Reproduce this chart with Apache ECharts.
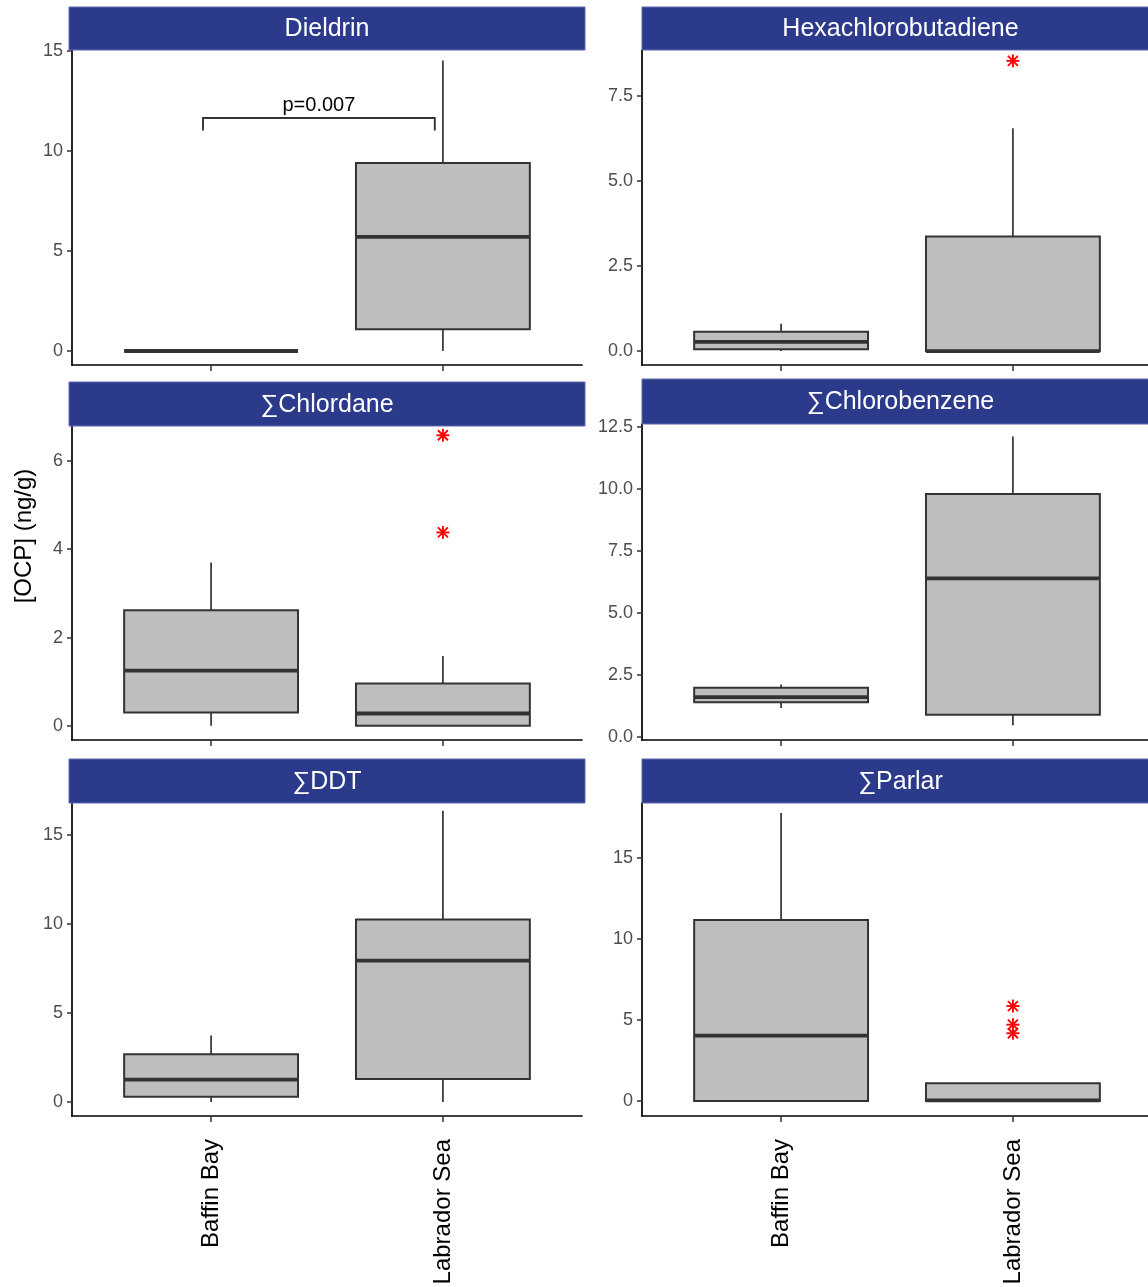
<!DOCTYPE html>
<html><head><meta charset="utf-8">
<script src="https://cdn.jsdelivr.net/npm/echarts@6/dist/echarts.min.js"></script>
<style>html,body{margin:0;padding:0;background:#fff}#c{width:1148px;height:1287px}</style>
</head><body><div id="c"></div>
<script>
// ---------------- DATA ----------------
const categories = ['Baffin Bay', 'Labrador Sea'];
const panelTitles = ['Dieldrin', 'Hexachlorobutadiene', '\u2211Chlordane', '\u2211Chlorobenzene', '\u2211DDT', '\u2211Parlar'];
const yAxisTitle = '[OCP] (ng/g)';

// box stats per category: [min, Q1, median, Q3, max]
const dieldrinBox      = [[0, 0, 0, 0, 0],              [0, 1.09, 5.71, 9.40, 14.53]];
const hexaBox          = [[0, 0.05, 0.27, 0.57, 0.80],  [0, 0, 0, 3.37, 6.55]];
const chlordaneBox     = [[0, 0.30, 1.25, 2.62, 3.70],  [0, 0, 0.28, 0.96, 1.58]];
const chlorobenzeneBox = [[1.17, 1.40, 1.61, 1.99, 2.12], [0.47, 0.90, 6.40, 9.80, 12.12]];
const ddtBox           = [[0, 0.29, 1.25, 2.68, 3.73],  [0, 1.29, 7.94, 10.25, 16.36]];
const parlarBox        = [[0, 0, 4.03, 11.17, 17.79],   [0, 0, 0.03, 1.09, 1.09]];

// outliers per category
const dieldrinOutliers      = [[], []];
const hexaOutliers          = [[], [8.53]];
const chlordaneOutliers     = [[], [6.58, 4.38]];
const chlorobenzeneOutliers = [[], []];
const ddtOutliers           = [[], []];
const parlarOutliers        = [[], [5.86, 4.71, 4.18]];

// y tick labels
const dieldrinTicks      = ['0', '5', '10', '15'];
const hexaTicks          = ['0.0', '2.5', '5.0', '7.5'];
const chlordaneTicks     = ['0', '2', '4', '6'];
const chlorobenzeneTicks = ['0.0', '2.5', '5.0', '7.5', '10.0', '12.5'];
const ddtTicks           = ['0', '5', '10', '15'];
const parlarTicks        = ['0', '5', '10', '15'];

// significance bracket (Dieldrin panel)
const bracketX = [0.965, 1.965];
const bracketY = [11.02, 11.65];
const bracketLabel = 'p=0.007';

// ---------------- LAYOUT ----------------
const boxes = [dieldrinBox, hexaBox, chlordaneBox, chlorobenzeneBox, ddtBox, parlarBox];
const outliers = [dieldrinOutliers, hexaOutliers, chlordaneOutliers, chlorobenzeneOutliers, ddtOutliers, parlarOutliers];
const ticks = [dieldrinTicks, hexaTicks, chlordaneTicks, chlorobenzeneTicks, ddtTicks, parlarTicks];

const layout = [
  {left: 72,  top: 50,  bottom: 365,  yMin: -0.70, yMax: 15.05, header: [69, 7, 516, 43]},
  {left: 642, top: 50,  bottom: 365,  yMin: -0.41, yMax: 8.85,  header: [642, 7, 511, 43]},
  {left: 72,  top: 426, bottom: 740,  yMin: -0.32, yMax: 6.79,  header: [69, 382, 516, 44]},
  {left: 642, top: 424, bottom: 740,  yMin: -0.12, yMax: 12.62, header: [642, 379, 511, 45]},
  {left: 72,  top: 803, bottom: 1116, yMin: -0.79, yMax: 16.80, header: [69, 759, 516, 44]},
  {left: 642, top: 803, bottom: 1116, yMin: -0.93, yMax: 18.40, header: [642, 759, 511, 44]}
];
const FONT = '"Liberation Sans", Arial, Helvetica, sans-serif';
const STRIP = '#2c3a8c';
const LINE = '#333333';

function renderBox(params, api) {
  const x = api.value(0);
  const pMin = api.coord([x, api.value(1)]);
  const pQ1 = api.coord([x, api.value(2)]);
  const pMd = api.coord([x, api.value(3)]);
  const pQ3 = api.coord([x, api.value(4)]);
  const pMax = api.coord([x, api.value(5)]);
  const half = api.size([0.75, 0])[0] / 2;
  const cx = pMin[0];
  return {type: 'group', children: [
    {type: 'line', shape: {x1: cx, y1: pQ3[1], x2: cx, y2: pMax[1]}, style: {stroke: LINE, lineWidth: 1.7}},
    {type: 'line', shape: {x1: cx, y1: pQ1[1], x2: cx, y2: pMin[1]}, style: {stroke: LINE, lineWidth: 1.7}},
    {type: 'rect', shape: {x: cx - half, y: pQ3[1], width: 2 * half, height: pQ1[1] - pQ3[1]},
     style: {fill: '#bebebe', stroke: LINE, lineWidth: 2}},
    {type: 'line', shape: {x1: cx - half, y1: pMd[1], x2: cx + half, y2: pMd[1]}, style: {stroke: LINE, lineWidth: 3.8}}
  ]};
}

function renderStar(params, api) {
  const p = api.coord([api.value(0), api.value(1)]);
  const r = 6.5, d = 5;
  const st = {stroke: '#ff0000', lineWidth: 1.9};
  return {type: 'group', children: [
    {type: 'line', shape: {x1: p[0], y1: p[1] - r, x2: p[0], y2: p[1] + r}, style: st},
    {type: 'line', shape: {x1: p[0] - r, y1: p[1], x2: p[0] + r, y2: p[1]}, style: st},
    {type: 'line', shape: {x1: p[0] - d, y1: p[1] - d, x2: p[0] + d, y2: p[1] + d}, style: st},
    {type: 'line', shape: {x1: p[0] - d, y1: p[1] + d, x2: p[0] + d, y2: p[1] - d}, style: st}
  ]};
}

function renderBracket(params, api) {
  const a = api.coord([api.value(0), api.value(2)]);
  const b = api.coord([api.value(1), api.value(3)]);
  const c = api.coord([api.value(1), api.value(2)]);
  const top = b[1];
  return {type: 'group', children: [
    {type: 'polyline', shape: {points: [[a[0], a[1]], [a[0], top], [c[0], top], [c[0], c[1]]]},
     style: {stroke: LINE, lineWidth: 1.9, fill: null}},
    {type: 'text', x: (a[0] + c[0]) / 2, y: top - 3,
     style: {text: bracketLabel, align: 'center', verticalAlign: 'bottom', font: '20px ' + FONT, fill: '#000'}}
  ]};
}

const grid = [], xAxis = [], yAxis = [], series = [], graphics = [];
layout.forEach((L, i) => {
  grid.push({left: L.left, top: L.top, width: 510, height: L.bottom - L.top, outerBoundsMode: 'none', containLabel: false});
  xAxis.push({
    gridIndex: i, type: 'value', min: 0.4, max: 2.6,
    axisLine: {show: true, onZero: false, lineStyle: {color: '#000', width: 1.7}},
    axisTick: {show: true, customValues: [1, 2], length: 6, lineStyle: {color: LINE, width: 1.5}},
    axisLabel: {show: i >= 4, customValues: [1, 2], formatter: v => categories[Math.round(v) - 1],
      rotate: 90, margin: 23, fontSize: 24, color: '#000', fontFamily: FONT},
    splitLine: {show: false}
  });
  const tv = ticks[i].map(Number);
  yAxis.push({
    gridIndex: i, type: 'value', min: L.yMin, max: L.yMax,
    axisLine: {show: true, onZero: false, lineStyle: {color: '#000', width: 1.7}},
    axisTick: {show: true, customValues: tv, length: 5, lineStyle: {color: LINE, width: 1.5}},
    axisLabel: {customValues: tv, margin: 9, fontSize: 18, color: '#4d4d4d', fontFamily: FONT,
      formatter: v => { const k = tv.findIndex(t => Math.abs(t - v) < 1e-9); return k >= 0 ? ticks[i][k] : ''; }},
    splitLine: {show: false}
  });
  series.push({
    type: 'custom', xAxisIndex: i, yAxisIndex: i, renderItem: renderBox, clip: false,
    encode: {x: 0, y: [1, 2, 3, 4, 5]},
    data: boxes[i].map((b, k) => [k + 1].concat(b))
  });
  const pts = [];
  outliers[i].forEach((arr, k) => arr.forEach(v => pts.push([k + 1, v])));
  if (pts.length) {
    series.push({type: 'custom', xAxisIndex: i, yAxisIndex: i, renderItem: renderStar, clip: false,
      encode: {x: 0, y: 1}, data: pts, z: 5});
  }
  const h = L.header;
  graphics.push({type: 'rect', shape: {x: h[0], y: h[1], width: h[2], height: h[3]},
    style: {fill: STRIP, stroke: '#5d69ad', lineWidth: 1}, z: 100});
  graphics.push({type: 'text', x: h[0] + h[2] / 2 + (i % 2 ? 3 : 0), y: h[1] + h[3] / 2 + 1,
    style: {text: panelTitles[i], align: 'center', verticalAlign: 'middle', font: '25px ' + FONT, fill: '#fff'}, z: 101});
});
series.push({
  type: 'custom', xAxisIndex: 0, yAxisIndex: 0, renderItem: renderBracket, clip: false,
  encode: {x: [0, 1], y: [2, 3]},
  data: [[bracketX[0], bracketX[1], bracketY[0], bracketY[1]]]
});
graphics.push({type: 'text', x: 24, y: 536, rotation: Math.PI / 2,
  style: {text: yAxisTitle, align: 'center', verticalAlign: 'middle', font: '24px ' + FONT, fill: '#000'}, z: 101});

const chart = echarts.init(document.getElementById('c'), null, {renderer: 'canvas'});
chart.setOption({
  animation: false,
  backgroundColor: '#fff',
  grid, xAxis, yAxis, series,
  graphic: {elements: graphics}
});
</script></body></html>
